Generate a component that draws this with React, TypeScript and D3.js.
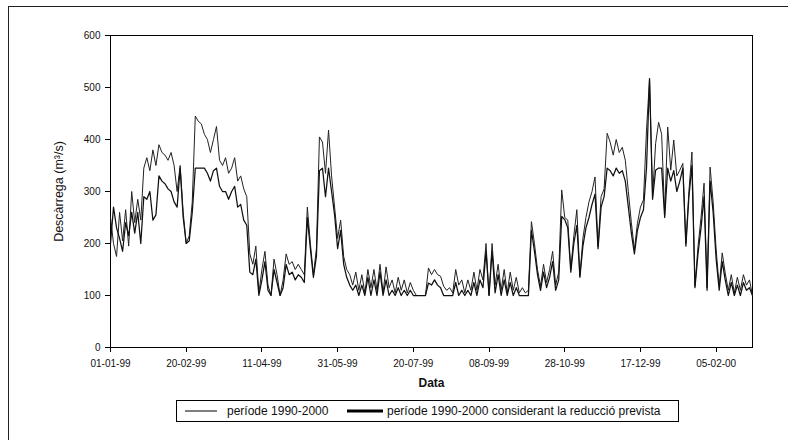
import React from "react";
import * as d3 from "d3";

// dates on the axis (dd-mm-yy), one every 50 days
const tickLabels = [
  "01-01-99", "20-02-99", "11-04-99", "31-05-99", "20-07-99",
  "08-09-99", "28-10-99", "17-12-99", "05-02-00",
];
const yTicks = [0, 100, 200, 300, 400, 500, 600];
const seriesNames = [
  "període 1990-2000",
  "període 1990-2000 considerant la reducció prevista",
];
const firstDay = "01-01-99";
const lastDay = "29-02-00";
const stepDays = 2;

// discharge (m3/s), one value every 2 days from 01-01-99
const flow = [
  250, 200, 175, 260, 205, 265, 195, 300, 240, 285,
  245, 345, 365, 340, 380, 350, 390, 375, 370, 360,
  375, 350, 300, 350, 260, 200, 215, 280, 445, 435,
  430, 410, 400, 375, 400, 425, 360, 350, 365, 335,
  345, 365, 320, 330, 305, 290, 180, 160, 195, 105,
  150, 185, 120, 100, 170, 140, 100, 130, 180, 160,
  165, 150, 160, 150, 140, 270, 200, 140, 190, 405,
  395, 335, 418, 330, 270, 210, 245, 175, 150, 140,
  120, 145, 110, 140, 105, 150, 115, 150, 110, 160,
  105, 155, 115, 130, 105, 135, 110, 130, 105, 125,
  110, 100, 100, 100, 100, 153, 140, 150, 140, 137,
  118, 110, 115, 105, 150, 120, 130, 105, 130, 110,
  145, 110, 150, 130, 200, 100, 200, 120, 160, 110,
  150, 105, 145, 110, 135, 105, 115, 105, 110, 242,
  200, 150, 118, 160, 125, 150, 185, 120, 145, 303,
  250, 245, 150, 215, 265, 137, 210, 250, 280, 300,
  328, 194, 290, 305, 412, 395, 370, 400, 375, 385,
  360, 300, 240, 188, 239, 270, 284, 418, 517, 290,
  392, 433, 410, 255, 424, 341, 399, 330, 341, 354,
  200, 300, 376, 118, 194, 250, 316, 115, 347, 280,
  188, 118, 182, 143, 110, 140, 105, 135, 110, 140,
  120, 130, 100,
];

const flowReduced = [
  200, 270, 230, 210, 185, 240, 215, 260, 220, 260,
  200, 290, 285, 300, 245, 255, 330, 320, 315, 305,
  300, 280, 270, 345, 250, 200, 205, 260, 345, 345,
  345, 345, 335, 320, 340, 345, 310, 300, 300, 285,
  300, 310, 270, 275, 245, 235, 145, 140, 170, 100,
  130, 165, 110, 100, 150, 125, 100, 115, 160, 140,
  145, 130, 140, 135, 125, 250, 190, 135, 175, 340,
  345, 290, 345, 300, 255, 190, 225, 160, 135, 120,
  110, 120, 100, 120, 100, 135, 100, 130, 100, 145,
  100, 130, 100, 110, 100, 115, 100, 110, 100, 110,
  100, 100, 100, 100, 100, 124, 120, 130, 120, 115,
  100, 100, 100, 100, 125, 100, 110, 100, 110, 100,
  125, 100, 130, 115, 185, 100, 185, 105, 140, 100,
  130, 100, 125, 100, 115, 100, 100, 100, 100, 225,
  185, 140, 110, 145, 115, 135, 165, 110, 130, 252,
  246, 230, 145, 200, 235, 135, 195, 230, 250, 275,
  295, 190, 270, 290, 345, 340, 330, 345, 335, 340,
  320, 270, 220, 180, 225, 250, 265, 345, 517, 285,
  341, 345, 345, 250, 345, 320, 340, 300, 320, 345,
  195, 290, 350, 115, 180, 230, 290, 110, 320, 260,
  170, 110, 165, 130, 100, 125, 100, 120, 100, 125,
  110, 115, 100,
];

const parse = d3.timeParse("%d-%m-%y");
const font = "'Liberation Sans', Arial, sans-serif";

export default function App() {
  const width = 788;
  const height = 440;
  const left = 110.5, right = 752.5, top = 35.5, bottom = 347.5;

  const start = parse(firstDay) as Date;
  const x = d3.scaleTime().domain([start, parse(lastDay) as Date]).range([left, right]);
  const y = d3.scaleLinear().domain([0, 600]).range([bottom, top]);

  const dates = flow.map((_, i) => d3.timeDay.offset(start, i * stepDays));
  const line = d3
    .line<number>()
    .x((_, i) => x(dates[i]))
    .y((d) => y(d));

  return (
    <svg
      width={width}
      height={height}
      style={{ position: "absolute", left: 0, top: 0, background: "#fff" }}
      fontFamily={font}
    >
      <rect x={8.5} y={6.5} width={800} height={460} fill="none" stroke="#222" />

      {/* plot area */}
      <rect x={left} y={top} width={right - left} height={bottom - top} fill="none" stroke="#000" shapeRendering="crispEdges" />

      {yTicks.map((t) => (
        <g key={t}>
          <line x1={left - 6} x2={left} y1={y(t)} y2={y(t)} stroke="#000" shapeRendering="crispEdges" />
          <text x={left - 10} y={y(t)} dy="0.35em" textAnchor="end" fontSize={10} fill="#111">
            {t}
          </text>
        </g>
      ))}

      {tickLabels.map((lab) => {
        const px = x(parse(lab) as Date);
        return (
          <g key={lab}>
            <line x1={px} x2={px} y1={bottom} y2={bottom + 4} stroke="#000" shapeRendering="crispEdges" />
            <text x={px} y={366.5} textAnchor="middle" fontSize={10} fill="#111">
              {lab}
            </text>
          </g>
        );
      })}

      <path d={line(flow) || ""} fill="none" stroke="#222" strokeWidth={1} strokeLinejoin="round" />
      <path d={line(flowReduced) || ""} fill="none" stroke="#111" strokeWidth={1.25} strokeLinejoin="round" />

      <text x={(left + right) / 2} y={387} textAnchor="middle" fontSize={12} fontWeight="bold" fill="#111">
        Data
      </text>
      <text transform={`translate(63, ${(top + bottom) / 2}) rotate(-90)`} textAnchor="middle" fontSize={12.5} fill="#111">
        Descàrrega (m³/s)
      </text>

      {/* legend */}
      <rect x={176.5} y={400.5} width={502} height={21} fill="#fff" stroke="#000" shapeRendering="crispEdges" />
      <line x1={185} x2={217} y1={411} y2={411} stroke="#000" strokeWidth={1} />
      <text x={227} y={415} fontSize={12} fill="#111">{seriesNames[0]}</text>
      <line x1={347} x2={383} y1={411} y2={411} stroke="#000" strokeWidth={3} />
      <text x={387} y={415} fontSize={12} fill="#111">{seriesNames[1]}</text>
    </svg>
  );
}
